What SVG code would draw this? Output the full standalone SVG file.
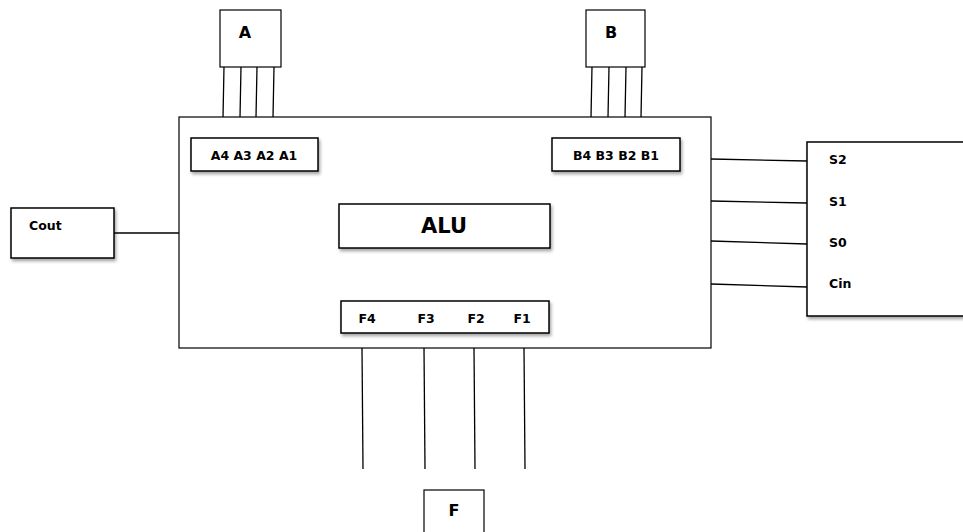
<svg xmlns="http://www.w3.org/2000/svg" width="963" height="532" viewBox="0 0 963 532">
<defs>
<filter id="sh" x="-10%" y="-10%" width="130%" height="140%">
<feDropShadow dx="1.5" dy="2.5" stdDeviation="1.5" flood-color="#000" flood-opacity="0.35"/>
</filter>
</defs>
<style>
.box{fill:#fff;stroke:#000;stroke-width:1.2}
.sbox{fill:#fff;stroke:#000;stroke-width:1.5;filter:url(#sh)}
.w{stroke:#000;stroke-width:1.3;fill:none}
text{font-family:"DejaVu Sans","Verdana",sans-serif;font-weight:bold;fill:#000}
.s{font-size:12.5px}
.m{font-size:16px}
.l{font-size:21px}
</style>
<rect width="963" height="532" fill="#fff"/>
<g id="connectors">
<line class="w" x1="224" y1="67" x2="223" y2="117"/>
<line class="w" x1="241" y1="67" x2="240" y2="117"/>
<line class="w" x1="257" y1="67" x2="256" y2="117"/>
<line class="w" x1="274" y1="67" x2="273" y2="117"/>
<line class="w" x1="592" y1="67" x2="591" y2="117"/>
<line class="w" x1="609" y1="67" x2="608" y2="117"/>
<line class="w" x1="626" y1="67" x2="625" y2="117"/>
<line class="w" x1="642" y1="67" x2="641" y2="117"/>
<line class="w" x1="711" y1="159" x2="807" y2="161"/>
<line class="w" x1="711" y1="201" x2="807" y2="203"/>
<line class="w" x1="711" y1="241" x2="807" y2="244"/>
<line class="w" x1="711" y1="284" x2="807" y2="287"/>
<line class="w" x1="114" y1="233" x2="179" y2="233"/>
<line class="w" x1="362" y1="348" x2="363" y2="469"/>
<line class="w" x1="424" y1="348" x2="425" y2="469"/>
<line class="w" x1="474" y1="348" x2="475" y2="469"/>
<line class="w" x1="524" y1="348" x2="525" y2="469"/>
</g>
<g id="alu-main">
<rect class="box" x="179" y="117" width="532" height="231" stroke-width="1.5"/>
</g>
<g id="A">
<rect class="box" x="220" y="10" width="61" height="57"/>
<text class="m" x="245" y="38" text-anchor="middle">A</text>
</g>
<g id="B">
<rect class="box" x="586" y="10" width="59" height="57"/>
<text class="m" x="611" y="38" text-anchor="middle">B</text>
</g>
<g id="A-inputs">
<rect class="sbox" x="191" y="138" width="127" height="33"/>
<text class="s" x="254" y="160" text-anchor="middle">A4 A3 A2 A1</text>
</g>
<g id="B-inputs">
<rect class="sbox" x="552" y="138" width="128" height="33"/>
<text class="s" x="616" y="160" text-anchor="middle">B4 B3 B2 B1</text>
</g>
<g id="ALU">
<rect class="sbox" x="339" y="204" width="211" height="44"/>
<text class="l" x="444" y="233" text-anchor="middle">ALU</text>
</g>
<g id="F-outputs">
<rect class="sbox" x="341" y="301" width="208" height="32"/>
<text class="s" x="367" y="323" text-anchor="middle">F4</text>
<text class="s" x="426" y="323" text-anchor="middle">F3</text>
<text class="s" x="476" y="323" text-anchor="middle">F2</text>
<text class="s" x="522" y="323" text-anchor="middle">F1</text>
</g>
<g id="Cout">
<rect class="sbox" x="11" y="208" width="103" height="50"/>
<text class="s" x="29" y="230">Cout</text>
</g>
<g id="control">
<rect class="sbox" x="807" y="142" width="170" height="174"/>
<text class="s" x="829" y="164">S2</text>
<text class="s" x="829" y="206">S1</text>
<text class="s" x="829" y="247">S0</text>
<text class="s" x="829" y="288">Cin</text>
</g>
<g id="F">
<rect class="box" x="424" y="490" width="60" height="45"/>
<text class="m" x="454" y="516" text-anchor="middle">F</text>
</g>
</svg>
